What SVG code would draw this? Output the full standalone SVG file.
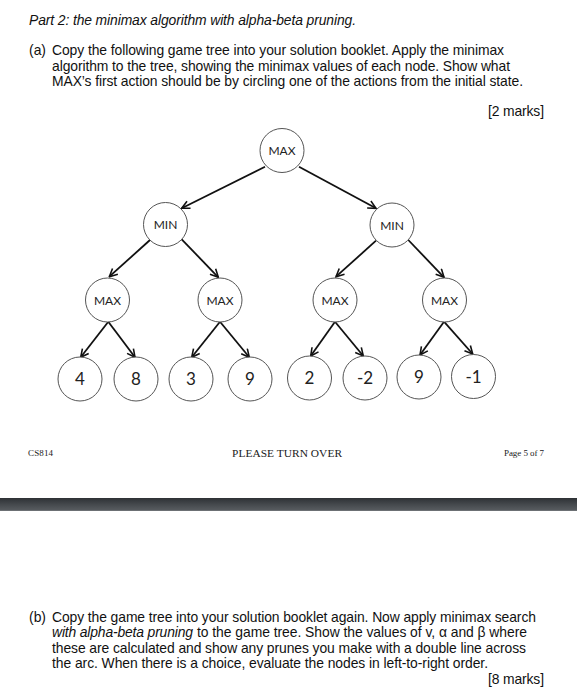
<svg xmlns="http://www.w3.org/2000/svg" width="577" height="695" viewBox="0 0 577 695">
<defs>
<style>
.t{font-family:"Liberation Sans",Arial,sans-serif;font-size:13.9px;fill:#111}
.i{font-style:italic}
.f{font-family:"Liberation Serif","Times New Roman",serif;fill:#1a1a1a}
.n circle{fill:#fff;stroke:#555;stroke-width:1}
.n text{font-family:Lato,"Open Sans",sans-serif;fill:#222;text-anchor:middle}
.lbl{font-size:12px}
.num{font-size:17px}
.e line{stroke:#111;stroke-width:1.8;marker-end:url(#ah)}
</style>
<marker id="ah" viewBox="0 0 10 10" refX="9" refY="5" markerWidth="5.5" markerHeight="5.5" markerUnits="strokeWidth" orient="auto">
<path d="M1,1 L9,5 L1,9" fill="none" stroke="#111" stroke-width="1.6"/>
</marker>
<linearGradient id="bar" x1="0" y1="0" x2="0" y2="1">
<stop offset="0" stop-color="#2e3135"/>
<stop offset="0.5" stop-color="#45494d"/>
<stop offset="1" stop-color="#5a5e62"/>
</linearGradient>
</defs>
<rect width="577" height="695" fill="#fff"/>

<text class="t i" x="29" y="25" textLength="327" lengthAdjust="spacing">Part 2: the minimax algorithm with alpha-beta pruning.</text>
<text class="t" x="29" y="55">(a)</text>
<text class="t" x="52" y="55" textLength="452" lengthAdjust="spacing">Copy the following game tree into your solution booklet. Apply the minimax</text>
<text class="t" x="52" y="70.5" textLength="458" lengthAdjust="spacing">algorithm to the tree, showing the minimax values of each node. Show what</text>
<text class="t" x="52" y="86" textLength="471" lengthAdjust="spacing">MAX’s first action should be by circling one of the actions from the initial state.</text>
<text class="t" x="488" y="116" textLength="56" lengthAdjust="spacing">[2 marks]</text>

<g class="e" id="connectors">
<line x1="265" y1="166.7" x2="181.7" y2="208.3"/>
<line x1="299" y1="166.7" x2="376" y2="208.3"/>
<line x1="150" y1="240" x2="109.3" y2="276.7"/>
<line x1="181.7" y1="239.3" x2="218.3" y2="277.3"/>
<line x1="376" y1="240.7" x2="336" y2="276.7"/>
<line x1="408.3" y1="240" x2="444" y2="277.3"/>
<line x1="108.3" y1="321.7" x2="80.7" y2="357.3"/>
<line x1="108.3" y1="321.7" x2="135" y2="357.3"/>
<line x1="220" y1="321.7" x2="191.7" y2="357.3"/>
<line x1="220" y1="321.7" x2="249.3" y2="357.3"/>
<line x1="335" y1="321.7" x2="310.7" y2="356"/>
<line x1="335" y1="321.7" x2="363.3" y2="356"/>
<line x1="444" y1="321.7" x2="420" y2="355"/>
<line x1="444" y1="321.7" x2="472.7" y2="354"/>
</g>

<g class="n" id="root"><circle cx="282" cy="150.5" r="22"/><text class="lbl" x="282" y="155">MAX</text></g>
<g class="n" id="minL"><circle cx="165.5" cy="224.5" r="22"/><text class="lbl" x="165.5" y="229">MIN</text></g>
<g class="n" id="minR"><circle cx="392" cy="225" r="22"/><text class="lbl" x="392" y="229.5">MIN</text></g>
<g class="n" id="max1"><circle cx="107.5" cy="300" r="22"/><text class="lbl" x="107.5" y="304.5">MAX</text></g>
<g class="n" id="max2"><circle cx="220" cy="300" r="22"/><text class="lbl" x="220" y="304.5">MAX</text></g>
<g class="n" id="max3"><circle cx="335" cy="300" r="22"/><text class="lbl" x="335" y="304.5">MAX</text></g>
<g class="n" id="max4"><circle cx="444.5" cy="300" r="22"/><text class="lbl" x="444.5" y="304.5">MAX</text></g>
<g class="n" id="leaf1"><circle cx="80" cy="379" r="22"/><text class="num" x="80" y="385">4</text></g>
<g class="n" id="leaf2"><circle cx="136" cy="379" r="22"/><text class="num" x="136" y="385">8</text></g>
<g class="n" id="leaf3"><circle cx="191" cy="379" r="22"/><text class="num" x="191" y="385">3</text></g>
<g class="n" id="leaf4"><circle cx="250" cy="379" r="22"/><text class="num" x="250" y="385">9</text></g>
<g class="n" id="leaf5"><circle cx="309.5" cy="378" r="22"/><text class="num" x="309.5" y="384">2</text></g>
<g class="n" id="leaf6"><circle cx="365" cy="378" r="22"/><text class="num" x="365" y="384">-2</text></g>
<g class="n" id="leaf7"><circle cx="419" cy="377" r="22"/><text class="num" x="419" y="383">9</text></g>
<g class="n" id="leaf8"><circle cx="473.5" cy="376.5" r="22"/><text class="num" x="473.5" y="382.5">-1</text></g>

<text class="f" x="28" y="456" font-size="9" textLength="25" lengthAdjust="spacing">CS814</text>
<text class="f" x="232" y="456.5" font-size="11.4" textLength="110" lengthAdjust="spacing">PLEASE TURN OVER</text>
<text class="f" x="504" y="456" font-size="9" textLength="40" lengthAdjust="spacing">Page 5 of 7</text>

<rect x="0" y="498" width="577" height="13" fill="url(#bar)"/>
<rect x="0" y="510" width="577" height="1" fill="#6c7074"/>

<text class="t" x="29" y="621.5">(b)</text>
<text class="t" x="52" y="621.5" textLength="484" lengthAdjust="spacing">Copy the game tree into your solution booklet again. Now apply minimax search</text>
<text class="t i" x="52" y="637" textLength="141" lengthAdjust="spacing">with alpha-beta pruning</text>
<text class="t" x="197" y="637" textLength="330" lengthAdjust="spacing">to the game tree. Show the values of v, α and β where</text>
<text class="t" x="52" y="652.5" textLength="474" lengthAdjust="spacing">these are calculated and show any prunes you make with a double line across</text>
<text class="t" x="52" y="668" textLength="436" lengthAdjust="spacing">the arc. When there is a choice, evaluate the nodes in left-to-right order.</text>
<text class="t" x="488" y="684" textLength="56" lengthAdjust="spacing">[8 marks]</text>
</svg>
